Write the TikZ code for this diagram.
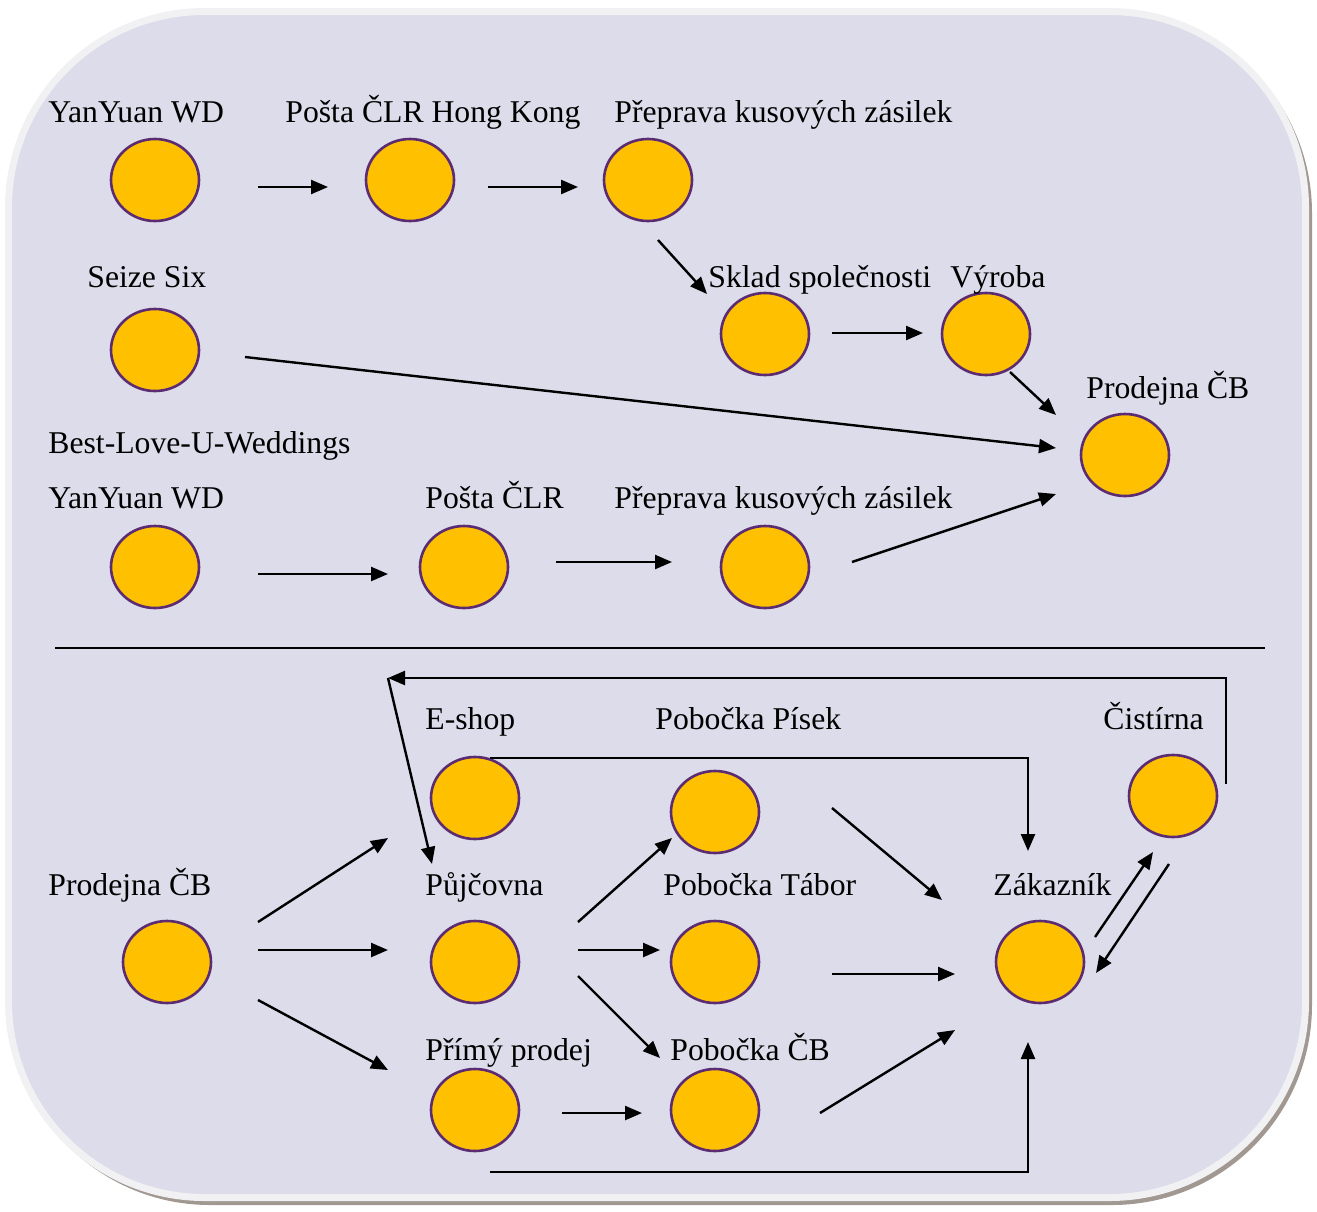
\documentclass[tikz,border=0pt]{standalone}
\usepackage{fontspec}
\setmainfont{Liberation Serif}
\usepackage{xcolor}
\usepackage{tikz}
\usetikzlibrary{shapes.geometric,arrows.meta,calc}

\definecolor{bgfill}{HTML}{DCDCEA}
\definecolor{bgborder}{HTML}{F1F1F3}
\definecolor{bgshadow}{HTML}{A19892}
\definecolor{dotfill}{HTML}{FFC000}
\definecolor{dotline}{HTML}{5C2C72}

\begin{document}
\begin{tikzpicture}[x=0.5pt,y=-0.5pt,
    dot/.style={ellipse, fill=dotfill, draw=dotline, line width=1.3pt,
        minimum width=44pt, minimum height=41pt, inner sep=0pt},
    lbl/.style={anchor=base west, inner sep=0pt, font=\fontsize{15.85}{19}\selectfont},
    arr/.style={line width=1.2pt, -{Triangle[length=8.5pt,width=7pt]}},
    seg/.style={line width=1.2pt}]
    \useasboundingbox (0,0) rectangle (1317,1211);

    % Background
    \fill[bgshadow, rounded corners=100pt] (10,13) rectangle (1312,1205);
    \filldraw[fill=bgfill, draw=bgborder, line width=3.5pt, rounded corners=98pt]
        (8.5,11.5) rectangle (1305.5,1197.5);

    % Upper part
    \node[dot] (yw1) at (155,180) {};
    \node[dot] (hk) at (410,180) {};
    \node[dot] (pk1) at (648,180) {};
    \node[dot] (ss) at (155,350) {};
    \node[dot] (sk) at (765,334) {};
    \node[dot] (vy) at (986,334) {};
    \node[dot] (pcb1) at (1125,455) {};
    \node[dot] (yw2) at (155,567) {};
    \node[dot] (pc) at (464,567) {};
    \node[dot] (pk2) at (765,567) {};

    \node[lbl] (yw1l) at (48,122) {YanYuan WD};
    \node[lbl] (hkl) at (285,122) {Pošta ČLR Hong Kong};
    \node[lbl] (pk1l) at (614,122) {Přeprava kusových zásilek};
    \node[lbl] (ssl) at (87,287) {Seize Six};
    \node[lbl] (skl) at (708,287) {Sklad společnosti};
    \node[lbl] (vyl) at (950,287) {Výroba};
    \node[lbl] (pcb1l) at (1086,398) {Prodejna ČB};
    \node[lbl] (bll) at (48,453) {Best-Love-U-Weddings};
    \node[lbl] (yw2l) at (48,508) {YanYuan WD};
    \node[lbl] (pcl) at (425,508) {Pošta ČLR};
    \node[lbl] (pk2l) at (614,508) {Přeprava kusových zásilek};

    \draw[arr] ([shift={(103,7)}]yw1.center) -- ([shift={(-82,7)}]hk.center);
    \draw[arr] ([shift={(78,7)}]hk.center) -- ([shift={(-70,7)}]pk1.center);
    \draw[arr] ([shift={(10,60)}]pk1.center) -- ([shift={(-58,-40)}]sk.center);
    \draw[arr] ([shift={(67,-1)}]sk.center) -- ([shift={(-63,-1)}]vy.center);
    \draw[arr] ([shift={(24,38)}]vy.center) -- ([shift={(-69,-40)}]pcb1.center);
    \draw[arr] ([shift={(90,7)}]ss.center) -- ([shift={(-69,-7)}]pcb1.center);
    \draw[arr] ([shift={(103,7)}]yw2.center) -- ([shift={(-76,7)}]pc.center);
    \draw[arr] ([shift={(92,-5)}]pc.center) -- ([shift={(-93,-5)}]pk2.center);
    \draw[arr] ([shift={(87,-5)}]pk2.center) -- ([shift={(-69,39)}]pcb1.center);

    % Divider
    \draw[line width=0.7pt] (55,648) -- (1265,648);

    % Lower part
    \node[dot] (pcb2) at (167,962) {};
    \node[dot] (es) at (475,798) {};
    \node[dot] (pp) at (715,812) {};
    \node[dot] (ci) at (1173,796) {};
    \node[dot] (pu) at (475,962) {};
    \node[dot] (pt) at (715,962) {};
    \node[dot] (za) at (1040,962) {};
    \node[dot] (pr) at (475,1110) {};
    \node[dot] (pb) at (715,1110) {};

    \node[lbl] (pcb2l) at (48,895) {Prodejna ČB};
    \node[lbl] (esl) at (425,729) {E-shop};
    \node[lbl] (ppl) at (655,729) {Pobočka Písek};
    \node[lbl] (cil) at (1103,729) {Čistírna};
    \node[lbl] (pul) at (425,895) {Půjčovna};
    \node[lbl] (ptl) at (663,895) {Pobočka Tábor};
    \node[lbl] (zal) at (993,895) {Zákazník};
    \node[lbl] (prl) at (425,1060) {Přímý prodej};
    \node[lbl] (pbl) at (670,1060) {Pobočka ČB};

    \coordinate (turn) at (388,678);

    \draw[arr] ([shift={(91,-40)}]pcb2.center) -- ([shift={(-87,40)}]es.center);
    \draw[arr] ([shift={(91,-12)}]pcb2.center) -- ([shift={(-87,-12)}]pu.center);
    \draw[arr] ([shift={(91,38)}]pcb2.center) -- ([shift={(-87,-40)}]pr.center);
    \draw[arr] ([shift={(103,-40)}]pu.center) -- ([shift={(-43,26)}]pp.center);
    \draw[arr] ([shift={(103,-12)}]pu.center) -- ([shift={(-55,-12)}]pt.center);
    \draw[arr] ([shift={(103,14)}]pu.center) -- ([shift={(-55,-52)}]pb.center);
    \draw[arr] ([shift={(87,3)}]pr.center) -- ([shift={(-73,3)}]pb.center);
    \draw[arr] ([shift={(117,-4)}]pp.center) -- ([shift={(-98,-62)}]za.center);
    \draw[arr] ([shift={(117,12)}]pt.center) -- ([shift={(-85,12)}]za.center);
    \draw[arr] ([shift={(105,3)}]pb.center) -- ([shift={(-85,68)}]za.center);
    \draw[arr] ([shift={(15,-40)}]es.center) -| ([shift={(-12,-111)}]za.center);
    \draw[arr] ([shift={(15,62)}]pr.center) -| ([shift={(-12,80)}]za.center);
    \draw[arr] ([shift={(55,-25)}]za.center) -- ([shift={(-20,56)}]ci.center);
    \draw[arr] ([shift={(-4,68)}]ci.center) -- ([shift={(56,11)}]za.center);
    \draw[arr] ([shift={(53,-12)}]ci.center) |- (turn);
    \draw[arr] (turn) -- ([shift={(-43,-98)}]pu.center);
\end{tikzpicture}
\end{document}
